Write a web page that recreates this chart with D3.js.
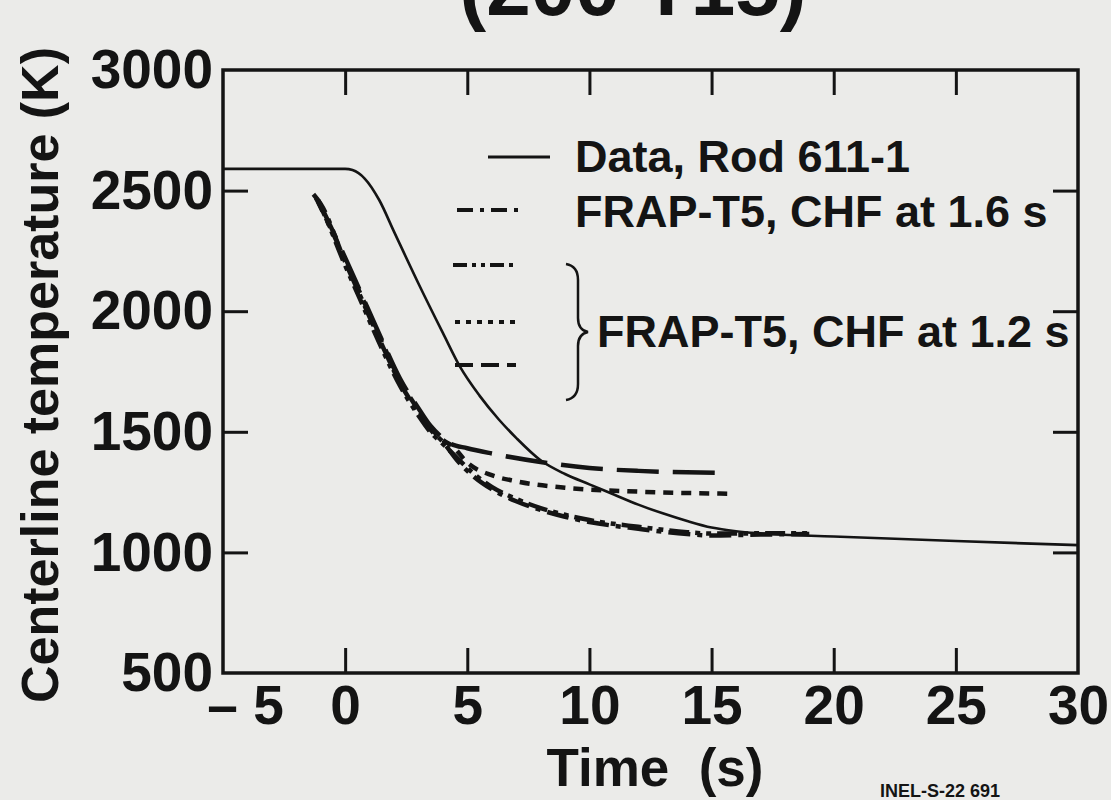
<!DOCTYPE html>
<html lang="en">
  <head>
    <meta charset="utf-8" />
    <title>Centerline temperature</title>
    <script type="text/javascript" src="https://d3js.org/d3.v7.min.js"></script>
    <style>
      body { margin: 0; background: #ebebe9; }
      svg { display: block; font-family: "Liberation Sans", Arial, sans-serif; }
    </style>
  </head>
  <body>
    <div id="graph"></div>

    <script type="text/javascript">
      /********************************
       * data
       ********************************/

      const xTicks = [-5, 0, 5, 10, 15, 20, 25, 30];
      const yTicks = [500, 1000, 1500, 2000, 2500, 3000];

      // measured data, Rod 611-1
      const dataTime = [-5, -2, 0, 0.3, 0.8, 1.4, 2, 3, 4, 4.7, 5.5, 6.3, 7, 8, 9, 10, 11, 12, 13, 14, 15, 16, 17, 20, 25, 30];
      const dataTemp = [2590, 2590, 2590, 2585, 2550, 2460, 2330, 2115, 1910, 1770, 1650, 1550, 1475, 1382, 1325, 1282, 1240, 1198, 1162, 1130, 1103, 1088, 1079, 1066, 1047, 1030];

      // FRAP-T5, CHF at 1.6 s (dash-dot)
      const chf16Time = [-1.3, -1, 0, 0.6, 1.5, 2.25, 3, 3.5, 4, 4.6, 5.2, 6, 7, 8, 9, 10, 12, 14, 15, 17, 19];
      const chf16Temp = [2485, 2445, 2205, 2068, 1862, 1702, 1580, 1508, 1458, 1380, 1320, 1262, 1212, 1176, 1148, 1126, 1098, 1076, 1070, 1074, 1076];

      // FRAP-T5, CHF at 1.2 s (dash-dot-dot)
      const chf12aTime = [-1.2, -1, 0, 0.6, 1.5, 2.25, 3, 3.5, 4, 4.6, 5.2, 6, 7, 8, 9, 10, 12, 14, 15, 17, 19];
      const chf12aTemp = [2470, 2432, 2190, 2052, 1846, 1690, 1568, 1498, 1450, 1390, 1332, 1272, 1222, 1184, 1156, 1134, 1106, 1084, 1078, 1079, 1079];

      // FRAP-T5, CHF at 1.2 s (dotted)
      const chf12bTime = [-1.1, 0, 0.6, 1.5, 2.25, 3, 3.5, 4, 4.4, 5, 6, 7, 9, 12, 15.8];
      const chf12bTemp = [2452, 2214, 2078, 1874, 1712, 1590, 1516, 1466, 1440, 1372, 1320, 1295, 1268, 1252, 1243];

      // FRAP-T5, CHF at 1.2 s (long dashes)
      const chf12cTime = [-1.1, 0, 0.6, 1.5, 2.25, 3, 3.5, 4, 4.3, 5, 6, 8, 10, 12, 15.6];
      const chf12cTemp = [2460, 2222, 2086, 1882, 1720, 1598, 1524, 1474, 1452, 1432, 1410, 1375, 1350, 1338, 1330];

      const seriesNames = [
        "Data, Rod 611-1",
        "FRAP-T5, CHF at 1.6 s",
        "FRAP-T5, CHF at 1.2 s",
      ];

      /***************************
       * create svg
       **************************/

      const width = 1111;
      const height = 800;
      const margin = { top: 70, right: 33, bottom: 127, left: 223 };
      const ink = "#141414";

      const svg = d3
        .select("div#graph")
        .append("svg")
        .attr("width", width)
        .attr("height", height);

      /****************************
       * scale
       *************************/

      const xScale = d3
        .scaleLinear()
        .domain([-5, 30])
        .range([margin.left, width - margin.right]);

      const yScale = d3
        .scaleLinear()
        .domain([500, 3000])
        .range([height - margin.bottom, margin.top]);

      /*********************************
       * axes (ticks point inward)
       *******************************/

      const tickLen = 25;
      const inner = xTicks.slice(1, -1);
      const innerY = yTicks.slice(1, -1);

      const xAxis = d3
        .axisBottom(xScale)
        .tickValues(xTicks)
        .tickSize(-tickLen)
        .tickPadding(12)
        .tickFormat((d) => (d < 0 ? "\u2013 " + Math.abs(d) : d));

      const yAxis = d3
        .axisLeft(yScale)
        .tickValues(yTicks)
        .tickSize(-tickLen)
        .tickPadding(10)
        .tickFormat(d3.format("d"));

      const xAxisGroup = svg
        .append("g")
        .attr("transform", `translate(0,${height - margin.bottom})`)
        .call(xAxis);

      const yAxisGroup = svg
        .append("g")
        .attr("transform", `translate(${margin.left},0)`)
        .call(yAxis);

      // top and right ticks, no labels
      svg
        .append("g")
        .attr("transform", `translate(0,${margin.top})`)
        .call(d3.axisTop(xScale).tickValues(inner).tickSize(-tickLen).tickFormat(""));

      svg
        .append("g")
        .attr("transform", `translate(${width - margin.right},0)`)
        .call(d3.axisRight(yScale).tickValues(innerY).tickSize(-tickLen).tickFormat(""));

      svg.selectAll(".domain").remove();
      svg.selectAll(".tick line").attr("stroke", ink).attr("stroke-width", 3);

      // hide end ticks that fall on the frame
      xAxisGroup.selectAll(".tick line").filter((d) => d === -5 || d === 30).remove();
      yAxisGroup.selectAll(".tick line").filter((d) => d === 500 || d === 3000).remove();

      svg
        .selectAll(".tick text")
        .attr("fill", ink)
        .attr("font-size", 55)
        .attr("font-weight", "bold");

      xAxisGroup.selectAll(".tick text").filter((d) => d === -5).attr("dx", 22);

      // frame
      svg
        .append("rect")
        .attr("x", xScale(-5))
        .attr("y", yScale(3000))
        .attr("width", xScale(30) - xScale(-5))
        .attr("height", yScale(500) - yScale(3000))
        .attr("fill", "none")
        .attr("stroke", ink)
        .attr("stroke-width", 3.5);

      // Add axis labels
      svg
        .append("text")
        .attr("x", 655)
        .attr("y", 786)
        .attr("text-anchor", "middle")
        .attr("font-size", 53)
        .attr("font-weight", "bold")
        .attr("fill", ink)
        .attr("xml:space", "preserve")
        .text("Time  (s)");

      svg
        .append("text")
        .attr("transform", "translate(58,375) rotate(-90)")
        .attr("text-anchor", "middle")
        .attr("font-size", 52)
        .attr("font-weight", "bold")
        .attr("fill", ink)
        .text("Centerline temperature (K)");

      // title, cut by the top edge
      svg
        .append("text")
        .attr("x", 633)
        .attr("y", 15)
        .attr("text-anchor", "middle")
        .attr("font-size", 80)
        .attr("font-weight", "bold")
        .attr("fill", ink)
        .text("(200 T15)");

      svg
        .append("text")
        .attr("x", 880)
        .attr("y", 797)
        .attr("font-size", 18)
        .attr("font-weight", "bold")
        .attr("fill", ink)
        .text("INEL-S-22 691");

      /********************************
       * curves
       * *******************************/

      const line = d3
        .line()
        .curve(d3.curveMonotoneX)
        .x((d) => xScale(d[0]))
        .y((d) => yScale(d[1]));

      const curves = [
        { t: dataTime, v: dataTemp, dash: null, w: 2.6 },
        { t: chf16Time, v: chf16Temp, dash: "22,7,5,7", w: 4.5 },
        { t: chf12aTime, v: chf12aTemp, dash: "20,6,5,6,5,6", w: 4.5 },
        { t: chf12bTime, v: chf12bTemp, dash: "10,8", w: 4.5 },
        { t: chf12cTime, v: chf12cTemp, dash: "42,14", w: 4.5 },
      ];

      svg
        .append("g")
        .selectAll("path")
        .data(curves)
        .join("path")
        .attr("d", (c) => line(d3.zip(c.t, c.v)))
        .attr("fill", "none")
        .attr("stroke", ink)
        .attr("stroke-width", (c) => c.w)
        .attr("stroke-dasharray", (c) => c.dash);

      /********************************
       * legend
       * *******************************/

      const legend = svg.append("g");
      const samples = [
        { x1: 488, x2: 550, y: 157, dash: null, w: 3 },
        { x1: 457, x2: 520, y: 210, dash: "16,7,4,7", w: 4 },
        { x1: 453, x2: 516, y: 265, dash: "14,5,4,5,4,5", w: 4 },
        { x1: 455, x2: 516, y: 322, dash: "5,6", w: 4 },
        { x1: 455, x2: 516, y: 365, dash: "18,8", w: 4 },
      ];

      legend
        .selectAll("line")
        .data(samples)
        .join("line")
        .attr("x1", (d) => d.x1)
        .attr("x2", (d) => d.x2)
        .attr("y1", (d) => d.y)
        .attr("y2", (d) => d.y)
        .attr("stroke", ink)
        .attr("stroke-width", (d) => d.w)
        .attr("stroke-dasharray", (d) => d.dash);

      const labelPos = [
        [575, 172],
        [575, 227],
        [597, 347],
      ];

      legend
        .selectAll("text")
        .data(seriesNames)
        .join("text")
        .attr("x", (d, i) => labelPos[i][0])
        .attr("y", (d, i) => labelPos[i][1])
        .attr("font-size", 45)
        .attr("font-weight", "bold")
        .attr("fill", ink)
        .text((d) => d);

      // brace grouping the three 1.2 s curves
      legend
        .append("path")
        .attr(
          "d",
          "M566,264 Q578,266 578,280 L578,318 Q578,330 588,332 Q578,334 578,346 L578,384 Q578,398 566,400"
        )
        .attr("fill", "none")
        .attr("stroke", ink)
        .attr("stroke-width", 2.5);
    </script>
  </body>
</html>
